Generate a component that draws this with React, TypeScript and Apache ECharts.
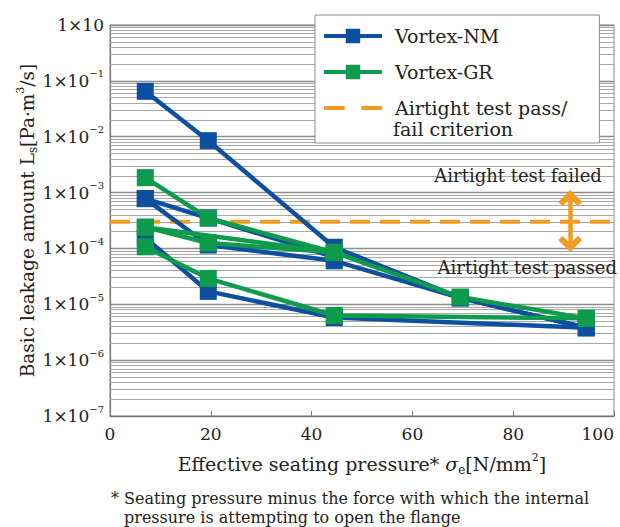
import React, { useEffect, useRef } from 'react';
import * as echarts from 'echarts';

const FONT = "'DejaVu Serif', serif";

const xTicks = { min: 0, max: 100, interval: 20 };
const yRange = { min: 1e-7, max: 1 };
const minorMultipliers = [2, 3, 4, 5, 6, 7, 8, 9];
const decadeStarts = [1e-7, 1e-6, 1e-5, 1e-4, 1e-3, 1e-2, 1e-1];

const criterionValue = 3e-4;

// Vortex-NM test runs [seating pressure, leakage]
const nmRun1 = [[7, 6.5e-2], [19.5, 8.5e-3], [44.5, 1.05e-4], [69.5, 1.3e-5], [94.5, 3.8e-6]];
const nmRun2 = [[7, 7.8e-4], [19.5, 3.5e-4], [44.5, 7e-5]];
const nmRun3 = [[7, 7.8e-4], [19.5, 1.15e-4], [44.5, 6e-5], [69.5, 1.3e-5], [94.5, 3.8e-6]];
const nmRun4 = [[7, 1.55e-4], [19.5, 1.7e-5], [44.5, 5.8e-6], [94.5, 3.8e-6]];

// Vortex-GR test runs
const grRun1 = [[7, 1.85e-3], [19.5, 3.5e-4], [44.5, 8.5e-5], [69.5, 1.35e-5], [94.5, 5.6e-6]];
const grRun2 = [[7, 2.4e-4], [19.5, 1.25e-4], [44.5, 8.5e-5]];
const grRun3 = [[7, 2.4e-4], [44.5, 8.5e-5]];
const grRun4 = [[7, 1.07e-4], [19.5, 2.9e-5], [44.5, 6.3e-6], [94.5, 5.6e-6]];

const nmRuns = [nmRun1, nmRun2, nmRun3, nmRun4];
const grRuns = [grRun1, grRun2, grRun3, grRun4];

const criterionLine = [[0, criterionValue], [100, criterionValue]];
const arrowEnds = [[91.3, 8.0e-4], [91.3, 1.2e-4]];
const failedLabel = { x: 97.6, y: 2.06e-3, text: 'Airtight test failed' };
const passedLabel = { x: 100, y: 4.65e-5, text: 'Airtight test passed' };

const BLUE = '#0E4FA0';
const GREEN = '#0F9B4C';
const ORANGE = '#EF9B26';
const TEXT = '#222';

const NM_NAME = 'Vortex-NM';
const GR_NAME = 'Vortex-GR';
const CRIT_NAME = 'Airtight test pass/';

const minorValues: number[] = [];
decadeStarts.forEach((d) => minorMultipliers.forEach((m) => minorValues.push(d * m)));

function makeRich(size: number) {
  return {
    sup: { fontFamily: FONT, fontSize: Math.round(size * 0.6), color: TEXT, verticalAlign: 'top', lineHeight: 12 },
    sub: { fontFamily: FONT, fontSize: Math.round(size * 0.65), color: TEXT, verticalAlign: 'bottom', lineHeight: 12 },
    it: { fontFamily: FONT, fontSize: size, color: TEXT, fontStyle: 'italic', lineHeight: 24 },
    base: { fontFamily: FONT, fontSize: size, color: TEXT, lineHeight: 24 },
  };
}

function makeRunSeries(run: number[][], name: string, color: string) {
  return {
    type: 'line',
    name,
    data: run,
    symbol: 'rect',
    symbolSize: 17,
    color,
    lineStyle: { color, width: 4.5 },
    itemStyle: { color },
    silent: true,
    z: 5,
  };
}

const chevron = 'path://M0,12 L12,0 L24,12 L19.5,16 L12,8.5 L4.5,16 Z';
const dashIcon = 'path://M0,0 h20 v4 h-20 Z M36,0 h20 v4 h-20 Z';

const option: any = {
  animation: false,
  textStyle: { fontFamily: FONT },
  grid: {
    left: 110, right: 6, top: 25, bottom: 111,
    show: true, borderColor: '#8c8c8c', borderWidth: 1,
    containLabel: false, outerBoundsMode: 'none',
  },
  legend: {
    data: [NM_NAME, GR_NAME, { name: CRIT_NAME, icon: dashIcon }],
    orient: 'vertical',
    left: 315,
    top: 15,
    z: 20,
    itemWidth: 58,
    itemHeight: 18,
    itemGap: 16,
    backgroundColor: '#fff',
    borderColor: '#8a8a8a',
    borderWidth: 1,
    padding: [11, 32, 25, 7],
    lineStyle: { width: 4 },
    textStyle: { fontFamily: FONT, fontSize: 19, color: TEXT, lineHeight: 20, padding: [0, 0, 0, 8] },
    selectedMode: false,
  },
  xAxis: {
    type: 'value',
    min: xTicks.min,
    max: xTicks.max,
    interval: xTicks.interval,
    axisLine: { show: true, lineStyle: { color: '#777', width: 1.2 } },
    axisTick: { show: true, inside: true, length: 5, lineStyle: { color: '#777' } },
    axisLabel: { fontFamily: FONT, fontSize: 17, color: TEXT, margin: 9, alignMaxLabel: 'right' },
    splitLine: { show: false },
    name: '{base|Effective seating pressure* }{it|σ}{sub|e}{base|[N/mm}{sup|2}{base|]}',
    nameLocation: 'middle',
    nameGap: 36,
    nameMoveOverlap: false,
    nameTextStyle: { fontFamily: FONT, fontSize: 19, color: TEXT, rich: makeRich(19) },
  },
  yAxis: {
    type: 'log',
    logBase: 10,
    min: yRange.min,
    max: yRange.max,
    axisLine: { show: true, lineStyle: { color: '#777', width: 1.2 } },
    axisTick: { show: false },
    axisLabel: {
      fontFamily: FONT,
      fontSize: 17,
      color: TEXT,
      margin: 6,
      formatter: (v: number) => {
        const e = Math.round(Math.log10(v));
        return e === 0 ? '{base|1×10}' : `{base|1×10}{sup|−${-e}}`;
      },
      rich: makeRich(17),
    },
    splitLine: { show: true, lineStyle: { color: '#8c8c8c', width: 1.3 } },
    name: '{base|Basic leakage amount L}{sub|s}{base|[Pa·m}{sup|3}{base|/s]}',
    nameLocation: 'middle',
    nameGap: 71,
    nameMoveOverlap: false,
    nameTextStyle: { fontFamily: FONT, fontSize: 18.5, color: TEXT, rich: makeRich(18.5) },
  },
  series: [
    {
      type: 'line',
      name: 'minor-grid',
      data: [],
      silent: true,
      z: 1,
      markLine: {
        silent: true,
        z: 1,
        symbol: 'none',
        label: { show: false },
        lineStyle: { color: '#a8a8a8', width: 1, type: 'solid' },
        data: minorValues.map((v) => [{ coord: [xTicks.min, v] }, { coord: [xTicks.max, v] }]),
      },
    },
    {
      type: 'line',
      name: CRIT_NAME,
      data: criterionLine,
      symbol: 'none',
      color: ORANGE,
      lineStyle: { color: ORANGE, width: 4, type: [20, 10] },
      silent: true,
      z: 3,
      markLine: {
        silent: true,
        z: 3,
        symbol: [chevron, chevron],
        symbolSize: [24, 16],
        label: { show: false },
        lineStyle: { color: ORANGE, width: 4.5, type: 'solid' },
        data: [[{ coord: arrowEnds[0] }, { coord: arrowEnds[1] }]],
      },
      markPoint: {
        silent: true,
        z: 3,
        symbol: 'circle',
        symbolSize: 0,
        label: {
          show: true,
          position: 'left',
          distance: 0,
          formatter: '{b}',
          fontFamily: FONT,
          fontSize: 18,
          color: TEXT,
        },
        data: [
          { name: failedLabel.text, coord: [failedLabel.x, failedLabel.y] },
          { name: passedLabel.text, coord: [passedLabel.x, passedLabel.y], label: { offset: [3, 0] } },
        ],
      },
    },
    ...nmRuns.map((r) => makeRunSeries(r, NM_NAME, BLUE)),
    ...grRuns.map((r) => makeRunSeries(r, GR_NAME, GREEN)),
  ],
  graphic: [
    {
      type: 'text',
      left: 393,
      top: 119,
      z: 100,
      style: { text: 'fail criterion', font: `19px ${FONT}`, fill: TEXT },
    },
    {
      type: 'text',
      left: 111,
      top: 490,
      style: { text: '* Seating pressure minus the force with which the internal', font: `16px ${FONT}`, fill: TEXT },
    },
    {
      type: 'text',
      left: 124,
      top: 509,
      style: { text: 'pressure is attempting to open the flange', font: `16px ${FONT}`, fill: TEXT },
    },
  ],
};

export default function App() {
  const ref = useRef<HTMLDivElement>(null);
  useEffect(() => {
    const chart = echarts.init(ref.current!, null, { renderer: 'svg' });
    chart.setOption(option);
    return () => chart.dispose();
  }, []);
  return <div ref={ref} style={{ position: 'fixed', left: 0, top: 0, width: 620, height: 527, background: '#fff' }} />;
}
